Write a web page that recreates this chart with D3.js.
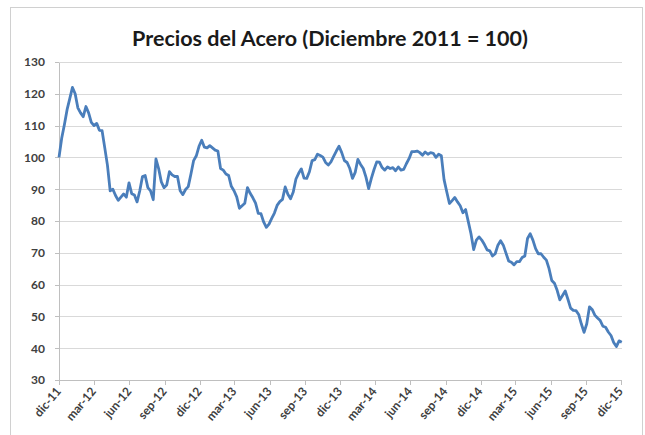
<!DOCTYPE html>
<meta charset="utf-8">
<script src="https://cdn.jsdelivr.net/npm/d3@7"></script>
<style>
body { margin: 0; background: #fff; }
.grid line { stroke: #d9d9d9; stroke-width: 1; shape-rendering: crispEdges; }
.axis path, .axis line { stroke: #bfbfbf; stroke-width: 1; shape-rendering: crispEdges; }
.axis text { fill: #404040; font-family: Lato, "DejaVu Sans", sans-serif; font-size: 12px; font-weight: bold; }
.title { font-family: Lato, "DejaVu Sans", sans-serif; font-weight: bold; font-size: 21.5px; fill: #1a1a1a; }
path.line { fill: none; stroke: #4a7ebb; stroke-width: 2.8; stroke-linejoin: round; }
</style>
<div id="container"></div>
<script>
// ---------------- DATA ----------------
// weekly index values, first week of December 2011 = 100
const startDate = "2011-12-01";
const endDate = "2015-12-01";
const steelIndex = [
  100, 106, 110.3, 115, 118.5, 122, 120, 115.6, 114, 112.8,
  116, 114, 111, 110, 110.7, 108.5, 108.4, 103, 97.5, 89.5,
  90, 88, 86.5, 87.5, 88.5, 87.5, 92, 88.6, 88.2, 86,
  89.5, 94, 94.3, 90.5, 89.5, 86.7, 99.5, 96.5, 92.3, 90.5,
  91.3, 95.5, 94.5, 94, 94, 89.5, 88.3, 89.9, 90.8, 94.8,
  99, 100.5, 103.5, 105.4, 103.2, 103, 103.7, 103, 102.3, 102,
  96.5, 96, 94.8, 94.3, 90.9, 89.5, 87.6, 84, 84.8, 85.6,
  90.5, 88.7, 87.3, 85.6, 82.4, 82.3, 79.7, 78, 79, 80.8,
  82.5, 84.9, 86.1, 86.8, 90.7, 88.4, 87, 89.1, 93.2, 95,
  96.4, 93.5, 93.4, 95.5, 99, 99.3, 101, 100.6, 100.1, 98.4,
  97.6, 98.6, 100.3, 102, 103.5, 101.5, 99, 98.4, 96.5, 93.4,
  95.3, 99.4, 97.8, 96.5, 93.8, 90.2, 93.4, 96.2, 98.6, 98.5,
  96.8, 96, 97, 96.5, 96.8, 95.8, 97, 96, 96.2, 98,
  99.6, 101.8, 101.8, 102, 101.5, 100.7, 101.7, 101, 101.5, 101.3,
  100, 101, 100.5, 93, 89.2, 85.5, 86.4, 87.4, 86, 84.8,
  82.6, 83.6, 79.8, 76, 71, 74, 75, 74, 72.6, 70.9,
  70.6, 69, 69.7, 72.4, 73.8, 72.4, 69.9, 67.4, 67, 66.2,
  67.2, 67.2, 68.5, 69, 74.5, 76, 74, 71.3, 69.7, 69.7,
  68.6, 67.7, 65, 61.3, 60.4, 58.2, 55.2, 56.6, 58, 55.4,
  52.6, 51.9, 51.8, 50.6, 47.6, 45, 47.7, 53, 52.2, 50.4,
  49.5, 48.7, 46.9, 46.6, 45.1, 44, 41.8, 40.5, 42.3, 41.9
];
const tickLabels = [
  "dic-11", "mar-12", "jun-12", "sep-12", "dic-12", "mar-13", "jun-13",
  "sep-13", "dic-13", "mar-14", "jun-14", "sep-14", "dic-14", "mar-15",
  "jun-15", "sep-15", "dic-15"
];
const yTicks = [30, 40, 50, 60, 70, 80, 90, 100, 110, 120, 130];
const titleText = "Precios del Acero (Diciembre 2011 = 100)";

// ---------------- SETUP ----------------
const width = 645;
const height = 435;
const plot = { left: 59, right: 621, top: 62, bottom: 380 };

const parse = d3.timeParse("%Y-%m-%d");
const t0 = parse(startDate);
const t1 = parse(endDate);

const data = steelIndex.map(function(v, i) {
  return { date: d3.timeDay.offset(t0, 7 * i), value: v };
});
// one tick every 3 months starting at dic-11
const tickDates = d3.timeMonth.range(t0, d3.timeDay.offset(t1, 1), 3);

const x = d3.scaleTime().domain([t0, t1]).range([plot.left, plot.right]);
const y = d3.scaleLinear().domain([30, 130]).range([plot.bottom, plot.top]);

const svg = d3.select("#container").append("svg")
  .attr("width", width)
  .attr("height", height);

// outer chart border
svg.append("rect")
  .attr("x", 10.5).attr("y", 7.5)
  .attr("width", 632).attr("height", 440)
  .attr("fill", "#fff")
  .attr("stroke", "#d0d0d0");

// title
svg.append("text")
  .attr("class", "title")
  .attr("x", 330)
  .attr("y", 46)
  .attr("text-anchor", "middle")
  .text(titleText);

// gridlines
svg.append("g")
  .attr("class", "grid")
  .selectAll("line")
  .data(yTicks.slice(1))
  .enter().append("line")
  .attr("x1", plot.left)
  .attr("x2", plot.right + 1)
  .attr("y1", function(d) { return Math.round(y(d)) + 0.5; })
  .attr("y2", function(d) { return Math.round(y(d)) + 0.5; });

// y axis
svg.append("g")
  .attr("class", "axis")
  .attr("transform", "translate(" + plot.left + ",0)")
  .call(d3.axisLeft(y).tickValues(yTicks).tickSize(4).tickSizeOuter(0).tickPadding(10));

// x axis
const xAxis = svg.append("g")
  .attr("class", "axis")
  .attr("transform", "translate(0," + plot.bottom + ")")
  .call(d3.axisBottom(x)
    .tickValues(tickDates)
    .tickSize(5)
    .tickSizeOuter(0)
    .tickFormat(function(d, i) { return tickLabels[i]; }));

xAxis.selectAll("text")
  .attr("x", 0)
  .attr("y", 0)
  .attr("dy", "0.35em")
  .attr("text-anchor", "end")
  .attr("transform", "translate(-1,9) rotate(-50)");

// line
const line = d3.line()
  .x(function(d) { return x(d.date); })
  .y(function(d) { return y(d.value); });

svg.append("path")
  .datum(data)
  .attr("class", "line")
  .attr("d", line);
</script>
